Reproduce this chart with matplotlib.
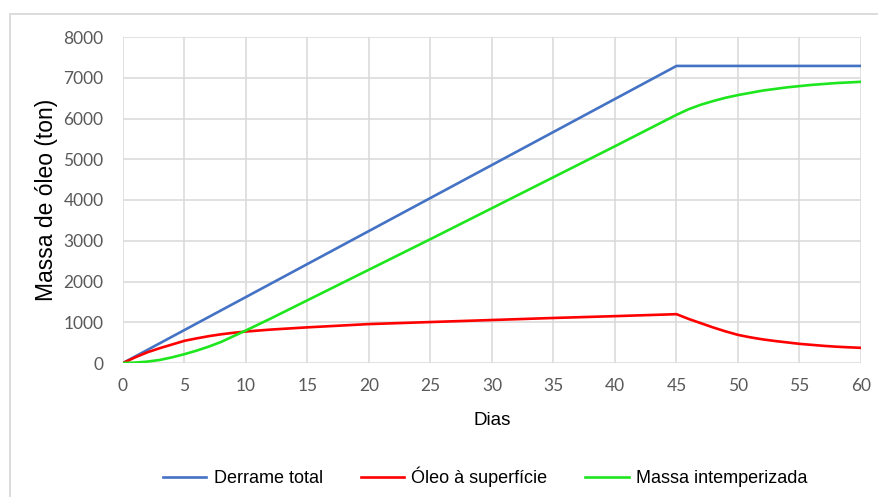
import matplotlib.pyplot as plt
from matplotlib.patches import Rectangle

# dados
dias_total = [0, 45, 60]
derrame_total = [0, 7290, 7290]

dias_sup = [0, 1, 2, 3, 4, 5, 6, 7, 8, 9, 10, 12, 15, 20, 25, 30, 35, 40, 45,
            46, 47, 48, 49, 50, 51, 52, 53, 54, 55, 56, 57, 58, 59, 60]
oleo_sup = [0, 140, 265, 365, 455, 545, 605, 660, 705, 742, 772, 820, 875, 955,
            1005, 1055, 1105, 1150, 1198,
            1080, 975, 870, 775, 690, 630, 580, 540, 505, 470, 445, 420, 400, 385, 372]

dias_int = [0, 1, 2, 3, 4, 5, 6, 7, 8, 9, 10, 12, 15, 20, 25, 30, 35, 40, 45,
            46, 47, 48, 49, 50, 52, 54, 56, 58, 60]
massa_int = [0, 10, 35, 75, 140, 217, 305, 405, 520, 660, 800, 1090, 1540, 2290,
             3040, 3800, 4560, 5320, 6090,
             6230, 6340, 6430, 6510, 6575, 6685, 6765, 6825, 6870, 6900]

x_ticks = list(range(0, 61, 5))
y_ticks = list(range(0, 8001, 1000))

fig = plt.figure(figsize=(8.79, 4.97), dpi=100)
ax = fig.add_axes([123/879, 1 - 363/497, (861-123)/879, (363-37)/497])

ax.plot(dias_total, derrame_total, color='#4472C4', lw=1.9, label='Derrame total')
ax.plot(dias_sup, oleo_sup, color='#FF0000', lw=1.9, label='Óleo à superfície')
ax.plot(dias_int, massa_int, color='#1EE61E', lw=1.9, label='Massa intemperizada')

ax.set_xlim(0, 60)
ax.set_ylim(0, 8000)
ax.set_xticks(x_ticks)
ax.set_yticks(y_ticks)
ax.grid(True, color='#D9D9D9', lw=1.1)
ax.set_axisbelow(True)
ax.tick_params(length=0, labelcolor='#595959', labelsize=12.5)
ax.tick_params(axis='y', pad=14)
ax.tick_params(axis='x', pad=11)
for lab in ax.get_xticklabels() + ax.get_yticklabels():
    lab.set_fontfamily('Lato')
for s in ax.spines.values():
    s.set_visible(False)

ax.set_xlabel('Dias', fontsize=13.5, family='Liberation Sans', labelpad=13)
ax.set_ylabel('Massa de óleo (ton)', fontsize=16.5, family='Liberation Sans', labelpad=4)

fig.legend(loc='center', bbox_to_anchor=(0.552, 1 - 477/497), ncol=3, frameon=False,
           prop={'family': 'Liberation Sans', 'size': 13}, handlelength=2.4,
           columnspacing=2.1, handletextpad=0.4)

fig.patches.append(Rectangle((10/879, -0.05), 1.0, 1 - 14/497 + 0.05,
                             transform=fig.transFigure, fill=False,
                             edgecolor='#D9D9D9', lw=1.3))

fig.savefig('out.png', dpi=100)
